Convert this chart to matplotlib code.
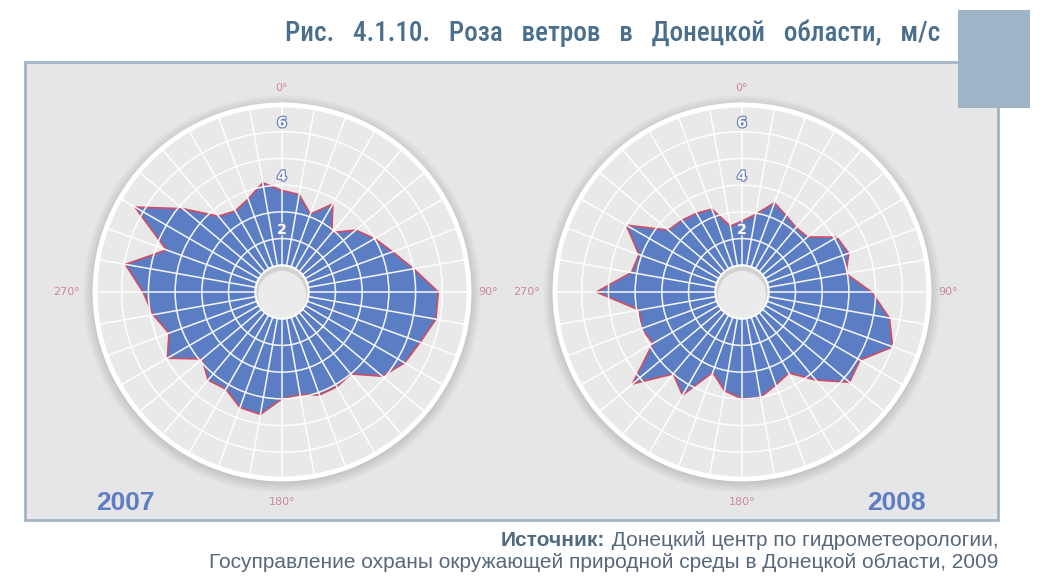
import numpy as np
import matplotlib
matplotlib.use('Agg')
import matplotlib.pyplot as plt
from matplotlib.patches import Rectangle, Circle
import matplotlib.patheffects as pe

# wind directions, every 10 degrees clockwise from north
directions = np.arange(0, 360, 10)

# mean wind speed, m/s
speed_2007 = [2.8, 2.7, 2.1, 2.8, 1.9, 2.6, 3.0, 3.4, 4.0, 4.85, 4.85, 4.5,
              4.3, 3.9, 3.0, 3.1, 3.1, 2.9, 3.0, 3.65, 3.6, 3.2, 3.3, 2.9,
              3.95, 3.5, 3.9, 4.2, 4.95, 3.6, 5.35, 3.85, 2.7, 2.5, 2.7, 3.15]
speed_2008 = [1.65, 1.95, 2.55, 2.3, 2.15, 2.2, 3.1, 3.25, 2.95, 3.85, 4.6, 5.0,
              4.1, 4.25, 3.3, 2.5, 2.7, 3.0, 3.0, 2.75, 2.2, 3.45, 3.0, 4.35,
              2.85, 3.0, 2.9, 4.45, 3.2, 3.1, 4.0, 2.6, 2.5, 2.4, 2.3, 1.5]

years = ['2007', '2008']
r_ticks = [2, 4, 6]
angle_labels = {0: '0°', 90: '90°', 180: '180°', 270: '270°'}

title = 'Рис.   4.1.10.   Роза   ветров   в   Донецкой   области,   м/с'
src_bold = 'Источник:'
src_line1 = ' Донецкий центр по гидрометеорологии,'
src_line2 = 'Госуправление охраны окружающей природной среды в Донецкой области, 2009'

W, H = 1040, 581
fig = plt.figure(figsize=(W / 100, H / 100), dpi=100)
fig.patch.set_facecolor('white')

bg = fig.add_axes([0, 0, 1, 1])
bg.set_xlim(0, W)
bg.set_ylim(H, 0)
bg.axis('off')

# panel and decoration box
bg.add_patch(Rectangle((25, 62), 973, 458, fc='#e6e6e8', ec='#a3b4c3', lw=2, zorder=1))
bg.add_patch(Rectangle((958, 10), 72, 98, fc='#9eb4c7', ec='none', zorder=2))

R = 187
centers = [(282, 292), (742, 292)]

# soft shadow round the discs + hole shading
for cx, cy in centers:
    for k in range(12):
        bg.add_patch(Circle((cx, cy + 2), R + 1 + k, fc='black', ec='none', alpha=0.012, zorder=3))
    bg.add_patch(Circle((cx, cy), 27, fc='#d2d2d2', ec='none', zorder=4))
    bg.add_patch(Circle((cx, cy + 3), 24, fc='#ebebeb', ec='none', zorder=5))

theta = np.deg2rad(np.append(directions, directions[0]))

for (cx, cy), yr, spd in zip(centers, years, [speed_2007, speed_2008]):
    ax = fig.add_axes([(cx - R) / W, (H - cy - R) / H, 2 * R / W, 2 * R / H],
                      projection='polar', facecolor='#e9e9e9')
    ax.set_theta_zero_location('N')
    ax.set_theta_direction(-1)
    ax.set_ylim(0, 6)
    ax.set_rorigin(-1)

    vals = np.append(spd, spd[0])
    ax.fill(theta, vals, fc='#5b7dc4', ec='#c9506b', lw=1.3, zorder=1)

    ax.set_xticks(np.deg2rad(directions))
    ax.set_xticklabels([])
    ax.set_yticks([1, 2, 3, 4, 5])
    ax.set_yticklabels([])
    ax.tick_params(length=0)
    ax.grid(color='white', lw=1.1, alpha=0.95)
    ax.set_axisbelow(False)
    ax.spines['polar'].set_color('white')
    ax.spines['polar'].set_linewidth(3.5)
    ax.spines['inner'].set_color('white')
    ax.spines['inner'].set_linewidth(1.5)

    for v in r_ticks:
        ax.text(0, v - 0.68, str(v), ha='center', va='center', fontsize=10,
                fontweight='bold', color='white', zorder=5,
                path_effects=[pe.withStroke(linewidth=1.8, foreground='#6f85b8')])

    for ang, lab in angle_labels.items():
        rr = {0: 6.64, 90: 6.72, 180: 6.87, 270: 7.05}[ang]
        ax.text(np.deg2rad(ang), rr, lab, ha='center', va='center',
                fontsize=8, color='#c98a9a', clip_on=False)

bg.text(125, 503, years[0], ha='center', va='center', fontsize=19,
        fontweight='bold', color='#5d7ec2', family='Liberation Sans', zorder=6)
bg.text(896, 503, years[1], ha='center', va='center', fontsize=19,
        fontweight='bold', color='#5d7ec2', family='Liberation Sans', zorder=6)

bg.text(940, 33, title, ha='right', va='center', fontsize=19.5, color='#4a6f8c',
        fontweight='medium', family=['Roboto Condensed', 'Roboto', 'DejaVu Sans'],
        zorder=6)

t1 = bg.text(998, 541, src_line1, ha='right', va='center', fontsize=15,
             color='#56687a', family='Liberation Sans', zorder=6)
bg.text(998, 563, src_line2, ha='right', va='center', fontsize=15,
        color='#56687a', family='Liberation Sans', zorder=6)
fig.canvas.draw()
bb = t1.get_window_extent()
bg.text(bb.x0, 541, src_bold, ha='right', va='center', fontsize=15,
        fontweight='bold', color='#4f6a80', family='Liberation Sans', zorder=6)

fig.savefig('out.png', dpi=100)
